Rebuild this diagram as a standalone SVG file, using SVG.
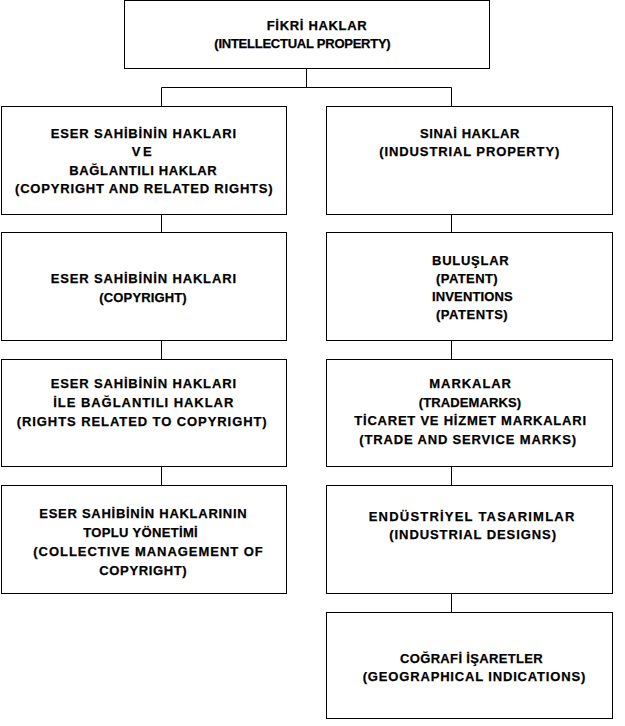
<svg xmlns="http://www.w3.org/2000/svg" width="625" height="726" viewBox="0 0 625 726">
<style>
.box{fill:#fff;stroke:#000;stroke-width:1}
.t{font-family:"Liberation Sans",Arial,sans-serif;font-weight:bold;font-size:13px;fill:#000;stroke:#000;stroke-width:0.25}
.c{fill:none;stroke:#000;stroke-width:1}
</style>
<rect width="625" height="726" fill="#fff"/>
<g id="connectors">
<path class="c" d="M306.5 68.5V87.5M161.5 87.5H451.5M161.5 87.5V106.5M451.5 87.5V106.5"/>
<path class="c" d="M161.5 214.5V232.5M161.5 340.5V359.5M161.5 466.5V485.5"/>
<path class="c" d="M451.5 214.5V232.5M451.5 340.5V359.5M451.5 466.5V485.5M451.5 593.5V612.5"/>
</g>
<g id="n0">
<rect class="box" x="124.5" y="0.5" width="365" height="68"/>
<text class="t" x="266.7" y="29.5" textLength="100" lengthAdjust="spacing">FİKRİ HAKLAR</text>
<text class="t" x="214.3" y="48" textLength="176.4" lengthAdjust="spacing">(INTELLECTUAL PROPERTY)</text>
</g>
<g id="l1">
<rect class="box" x="1.5" y="106.5" width="285" height="108"/>
<text class="t" x="50.7" y="137.5" textLength="185.3" lengthAdjust="spacing">ESER SAHİBİNİN HAKLARI</text>
<text class="t" x="131.7" y="156" textLength="20" lengthAdjust="spacing">VE</text>
<text class="t" x="69.3" y="174.5" textLength="147.4" lengthAdjust="spacing">BAĞLANTILI HAKLAR</text>
<text class="t" x="15" y="193" textLength="257.7" lengthAdjust="spacing">(COPYRIGHT AND RELATED RIGHTS)</text>
</g>
<g id="l2">
<rect class="box" x="1.5" y="232.5" width="285" height="108"/>
<text class="t" x="50.7" y="283" textLength="185.3" lengthAdjust="spacing">ESER SAHİBİNİN HAKLARI</text>
<text class="t" x="99.3" y="301.5" textLength="87.4" lengthAdjust="spacing">(COPYRIGHT)</text>
</g>
<g id="l3">
<rect class="box" x="1.5" y="359.5" width="285" height="107"/>
<text class="t" x="50.7" y="387.7" textLength="185.3" lengthAdjust="spacing">ESER SAHİBİNİN HAKLARI</text>
<text class="t" x="53.3" y="406.5" textLength="180" lengthAdjust="spacing">İLE BAĞLANTILI HAKLAR</text>
<text class="t" x="16.7" y="425.5" textLength="250" lengthAdjust="spacing">(RIGHTS RELATED TO COPYRIGHT)</text>
</g>
<g id="l4">
<rect class="box" x="1.5" y="485.5" width="285" height="108"/>
<text class="t" x="39.3" y="518" textLength="207.4" lengthAdjust="spacing">ESER SAHİBİNİN HAKLARININ</text>
<text class="t" x="83.3" y="537" textLength="114.4" lengthAdjust="spacing">TOPLU YÖNETİMİ</text>
<text class="t" x="33.3" y="556" textLength="229.4" lengthAdjust="spacing">(COLLECTIVE MANAGEMENT OF</text>
<text class="t" x="99.3" y="575" textLength="87.4" lengthAdjust="spacing">COPYRIGHT)</text>
</g>
<g id="r1">
<rect class="box" x="326.5" y="106.5" width="286" height="108"/>
<text class="t" x="420" y="137.5" textLength="99.3" lengthAdjust="spacing">SINAİ HAKLAR</text>
<text class="t" x="379.3" y="156" textLength="180" lengthAdjust="spacing">(INDUSTRIAL PROPERTY)</text>
</g>
<g id="r2">
<rect class="box" x="326.5" y="232.5" width="286" height="108"/>
<text class="t" x="432" y="264.5" textLength="76.7" lengthAdjust="spacing">BULUŞLAR</text>
<text class="t" x="436" y="282.5" textLength="61.7" lengthAdjust="spacing">(PATENT)</text>
<text class="t" x="432" y="300.5" textLength="80.7" lengthAdjust="spacing">INVENTIONS</text>
<text class="t" x="436" y="318.5" textLength="71.7" lengthAdjust="spacing">(PATENTS)</text>
</g>
<g id="r3">
<rect class="box" x="326.5" y="359.5" width="286" height="107"/>
<text class="t" x="429.3" y="388" textLength="81.7" lengthAdjust="spacing">MARKALAR</text>
<text class="t" x="418.7" y="406.5" textLength="102.3" lengthAdjust="spacing">(TRADEMARKS)</text>
<text class="t" x="354.3" y="425" textLength="231.7" lengthAdjust="spacing">TİCARET VE HİZMET MARKALARI</text>
<text class="t" x="359.3" y="443.5" textLength="216.7" lengthAdjust="spacing">(TRADE AND SERVICE MARKS)</text>
</g>
<g id="r4">
<rect class="box" x="326.5" y="485.5" width="286" height="108"/>
<text class="t" x="368.7" y="520.5" textLength="205.6" lengthAdjust="spacing">ENDÜSTRİYEL TASARIMLAR</text>
<text class="t" x="389.3" y="539" textLength="166.7" lengthAdjust="spacing">(INDUSTRIAL DESIGNS)</text>
</g>
<g id="r5">
<rect class="box" x="326.5" y="612.5" width="286" height="106"/>
<text class="t" x="400" y="662.5" textLength="142.7" lengthAdjust="spacing">COĞRAFİ İŞARETLER</text>
<text class="t" x="362.7" y="681" textLength="222.6" lengthAdjust="spacing">(GEOGRAPHICAL INDICATIONS)</text>
</g>
</svg>
